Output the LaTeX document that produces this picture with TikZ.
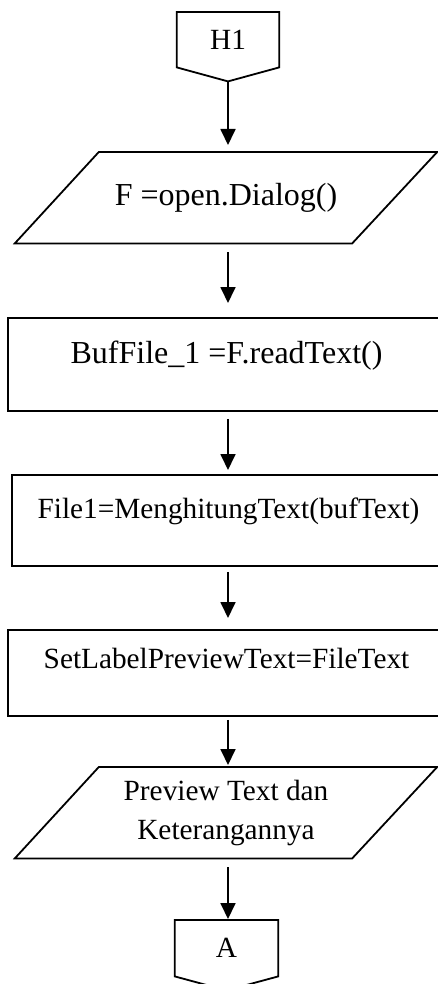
\documentclass[tikz,border=0pt]{standalone}
\usepackage{fontspec}
\setmainfont{Liberation Serif}
\usepackage{tikz}
\usetikzlibrary{arrows.meta,positioning,calc}

\tikzset{
  outline/.style={line width=1.8pt, line join=miter},
  flow/.style={line width=1.8pt, -{Triangle[width=15pt,length=16pt]}},
  procbox/.style={draw, outline, rectangle, inner sep=0pt, minimum width=437pt, text depth=47pt},
  iobox/.style={rectangle, inner sep=0pt, minimum width=422pt, minimum height=91pt, align=center},
  pageconn/.style={rectangle, inner sep=0pt, minimum width=102pt, minimum height=55pt}
}

\begin{document}
\begin{tikzpicture}[x=1pt, y=-1pt, font=\fontsize{29.3}{39}\selectfont]
                \clip (0,0) rectangle (438,984);

                % off-page connector top
                \node[pageconn, anchor=north] (h1) at (228,12) {H1};
                \draw[outline] (h1.north west) -- (h1.north east) -- (h1.south east)
                  -- ([yshift=-14pt]h1.south) -- (h1.south west) -- cycle;
                \coordinate (h1tip) at ([yshift=-14pt]h1.south);

                % input
                \node[iobox, anchor=north, font=\fontsize{32}{39}\selectfont] (p1) at (226,152) {F =open.Dialog()};
                \draw[outline] (p1.south west) -- ([xshift=-85pt]p1.south east)
                  -- (p1.north east) -- ([xshift=84pt]p1.north west) -- cycle;

                % process boxes
                \node[procbox, anchor=north, text height=46pt, font=\fontsize{32}{39}\selectfont] (b1) at (226.5,317) {BufFile\_1 =F.readText()};
                \node[procbox, anchor=north, minimum width=433pt, text height=44pt] (b2) at (228.5,474) {File1=MenghitungText(bufText)};
                \node[procbox, anchor=north, text height=39pt] (b3) at (226.5,629) {SetLabelPreviewText=FileText};

                % output
                \node[iobox, anchor=north] (p2) at (226,767) {Preview Text dan\\Keterangannya};
                \draw[outline] (p2.south west) -- ([xshift=-85pt]p2.south east)
                  -- (p2.north east) -- ([xshift=84pt]p2.north west) -- cycle;

                % off-page connector bottom
                \node[pageconn, anchor=north, minimum width=103pt, minimum height=56pt] (a) at (226.5,920) {A};
                \draw[outline] (a.north west) -- (a.north east) -- (a.south east)
                  -- ([yshift=-14pt]a.south) -- (a.south west) -- cycle;

                % arrows
                \draw[flow, shorten >=7pt] (h1tip) -- (h1tip |- p1.north);
                \draw[flow, shorten <=9pt, shorten >=14pt] (p1.south -| h1tip) -- (h1tip |- b1.north);
                \draw[flow, shorten <=7pt, shorten >=4pt] (b1.south -| h1tip) -- (h1tip |- b2.north);
                \draw[flow, shorten <=5pt, shorten >=11pt] (b2.south -| h1tip) -- (h1tip |- b3.north);
                \draw[flow, shorten <=3pt, shorten >=2pt] (b3.south -| h1tip) -- (h1tip |- p2.north);
                \draw[flow, shorten <=9pt, shorten >=1pt] (p2.south -| h1tip) -- (h1tip |- a.north);
\end{tikzpicture}
\end{document}
